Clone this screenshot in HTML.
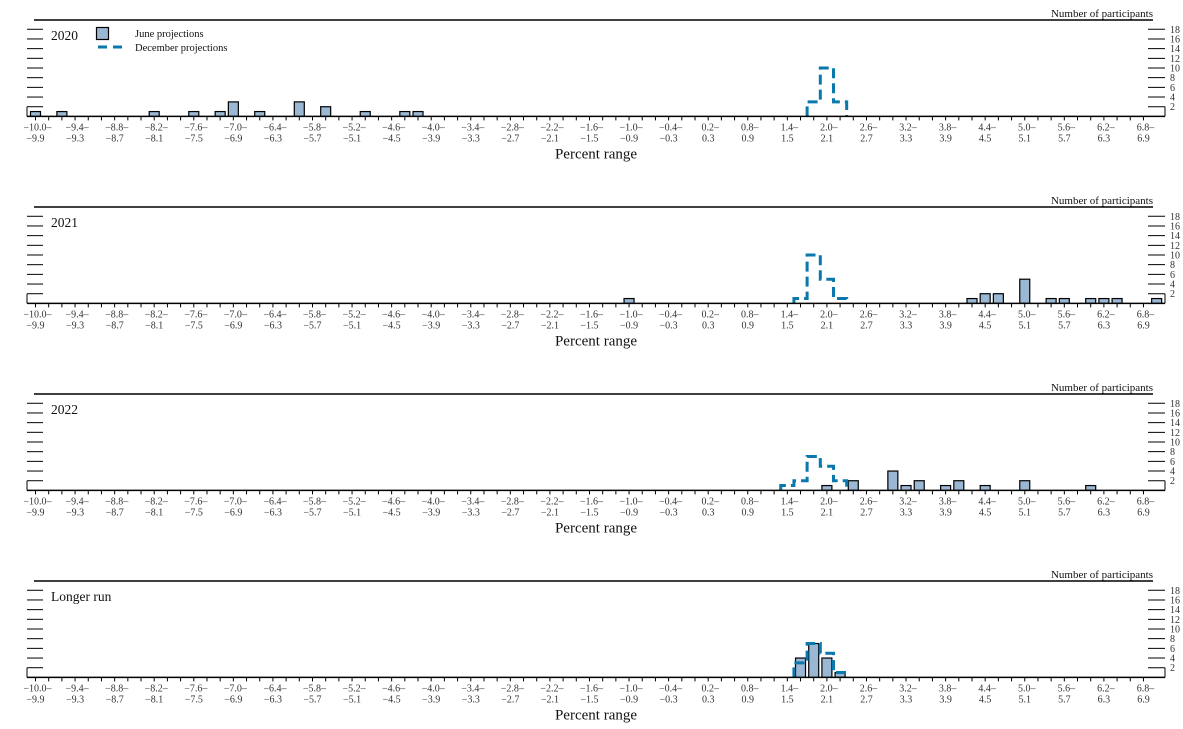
<!DOCTYPE html>
<html><head><meta charset="utf-8"><style>
html,body{margin:0;padding:0;background:#fff;}
svg{display:block;font-family:"Liberation Serif",serif;}
</style></head><body>
<svg id="chart" width="1183" height="729" viewBox="0 0 1183 729"></svg>
<script>
// Bins: lower bound of each 0.2 range, -10.0 ... 7.0
const binLows = [];
for (let k = 0; k <= 85; k++) binLows.push(Math.round((-10 + k * 0.2) * 10) / 10);
const panelTitles = ["2020", "2021", "2022", "Longer run"];
const yTicks = [2, 4, 6, 8, 10, 12, 14, 16, 18];
// June projections: [bin lower, count]
const june2020 = [[-10.0,1],[-9.6,1],[-8.2,1],[-7.6,1],[-7.2,1],[-7.0,3],[-6.6,1],[-6.0,3],[-5.6,2],[-5.0,1],[-4.4,1],[-4.2,1]];
const june2021 = [[-1.0,1],[4.2,1],[4.4,2],[4.6,2],[5.0,5],[5.4,1],[5.6,1],[6.0,1],[6.2,1],[6.4,1],[7.0,1]];
const june2022 = [[2.0,1],[2.4,2],[3.0,4],[3.2,1],[3.4,2],[3.8,1],[4.0,2],[4.4,1],[5.0,2],[6.0,1]];
const juneLR = [[1.6,4],[1.8,7],[2.0,4],[2.2,1]];
// December projections
const dec2020 = [[1.8,3],[2.0,10],[2.2,3]];
const dec2021 = [[1.6,1],[1.8,10],[2.0,5],[2.2,1]];
const dec2022 = [[1.4,1],[1.6,2],[1.8,7],[2.0,5],[2.2,2]];
const decLR = [[1.6,3],[1.8,7],[2.0,5],[2.2,1]];
const juneSeries = [june2020, june2021, june2022, juneLR];
const decSeries = [dec2020, dec2021, dec2022, decLR];

const NS = "http://www.w3.org/2000/svg";
const svg = document.getElementById("chart");
const BIN0 = 35.5, BINW = 13.19, PANEL_H = 187, BASE = 116.4, UNIT = 4.84;
const xOf = v => BIN0 + Math.round((v + 10) / 0.2) * BINW;
const yOf = (c, p) => BASE + p * PANEL_H - c * UNIT;
function mk(tag, attrs, parent) {
  const e = document.createElementNS(NS, tag);
  for (const k in attrs) e.setAttribute(k, attrs[k]);
  (parent || svg).appendChild(e);
  return e;
}
const fmt = v => (v < 0 ? "\u2212" : "") + Math.abs(v).toFixed(1);

for (let p = 0; p < 4; p++) {
  const g = mk("g", {});
  
  
  const oy = p * PANEL_H;
  const base = BASE + oy;
  mk("line", {x1: 34, x2: 1153, y1: 20 + oy, y2: 20 + oy, stroke: "#000", "stroke-width": 1.5}, g);
  let t = mk("text", {x: 1153, y: 17 + oy, "text-anchor": "end", "font-size": 11, fill: "#111"}, g);
  t.textContent = "Number of participants";
  
  
  t = mk("text", {x: 51, y: 40 + oy, "font-size": 13.5, fill: "#111"}, g);
  t.textContent = panelTitles[p];
  
  
  // y ticks
  yTicks.forEach(v => {
    const y = yOf(v, p);
    mk("line", {x1: 27, x2: 43, y1: y, y2: y, stroke: "#000", "stroke-width": 1}, g);
    mk("line", {x1: 1148, x2: 1165, y1: y, y2: y, stroke: "#000", "stroke-width": 1}, g);
    const tl = mk("text", {x: 1170, y: y + 3.5, "font-size": 10, fill: "#333"}, g);
    tl.textContent = v;
    
    
  });
  mk("line", {x1: 27, x2: 27, y1: yOf(2, p), y2: base, stroke: "#000", "stroke-width": 1}, g);
  mk("line", {x1: 1165, x2: 1165, y1: yOf(2, p), y2: base, stroke: "#000", "stroke-width": 1}, g);
  // June bars
  juneSeries[p].forEach(([v, c]) => {
    const x = xOf(v);
    const r = mk("rect", {x: x - 5, y: yOf(c, p), width: 10, height: c * UNIT, fill: "#9ab7d4", stroke: "#000", "stroke-width": 1.2}, g);
    
    
  });
  // December step outline
  const d = decSeries[p];
  let path = "";
  d.forEach(([v, c], i) => {
    const xl = xOf(v) - BINW / 2, xr = xOf(v) + BINW / 2;
    const prev = i > 0 ? d[i - 1][1] : 0;
    path += (i === 0 ? "M" + xl + "," + base : "") + " L" + xl + "," + yOf(c, p) + " L" + xr + "," + yOf(c, p);
    if (i === d.length - 1) path += " L" + xr + "," + base;
  });
  const dl = mk("path", {d: path, fill: "none", stroke: "#0a78ad", "stroke-width": 3, "stroke-dasharray": "10,5"}, g);
  
  
  // x axis
  mk("line", {x1: 27, x2: 1165, y1: base, y2: base, stroke: "#000", "stroke-width": 1.5}, g);
  binLows.forEach((v, k) => {
    const x = BIN0 + k * BINW;
    if (k < 85) mk("line", {x1: x, x2: x, y1: base, y2: base + 4, stroke: "#000", "stroke-width": 1}, g);
    if (k % 3 === 0 && k <= 84) {
      const a = mk("text", {x: x + 2, y: base + 14, "text-anchor": "middle", "font-size": 10, fill: "#333"}, g);
      a.textContent = fmt(v) + "\u2013";
      
      
      const b = mk("text", {x: x, y: base + 25, "text-anchor": "middle", "font-size": 10, fill: "#333"}, g);
      b.textContent = fmt(Math.round((v + 0.1) * 10) / 10);
      
      
    }
  });
  t = mk("text", {x: 596, y: base + 42, "text-anchor": "middle", "font-size": 15, fill: "#111"}, g);
  t.textContent = "Percent range";
  
  
}
// legend
const lg = mk("g", {});


mk("rect", {x: 96.5, y: 27.5, width: 12, height: 12, fill: "#9ab7d4", stroke: "#000", "stroke-width": 1.2}, lg);
let lt = mk("text", {x: 135, y: 37, "font-size": 10.5, fill: "#111"}, lg);
lt.textContent = "June projections";


mk("line", {x1: 98, x2: 123, y1: 47, y2: 47, stroke: "#0a78ad", "stroke-width": 3, "stroke-dasharray": "9,6"}, lg);
lt = mk("text", {x: 135, y: 51, "font-size": 10.5, fill: "#111"}, lg);
lt.textContent = "December projections";


</script>
</body></html>
